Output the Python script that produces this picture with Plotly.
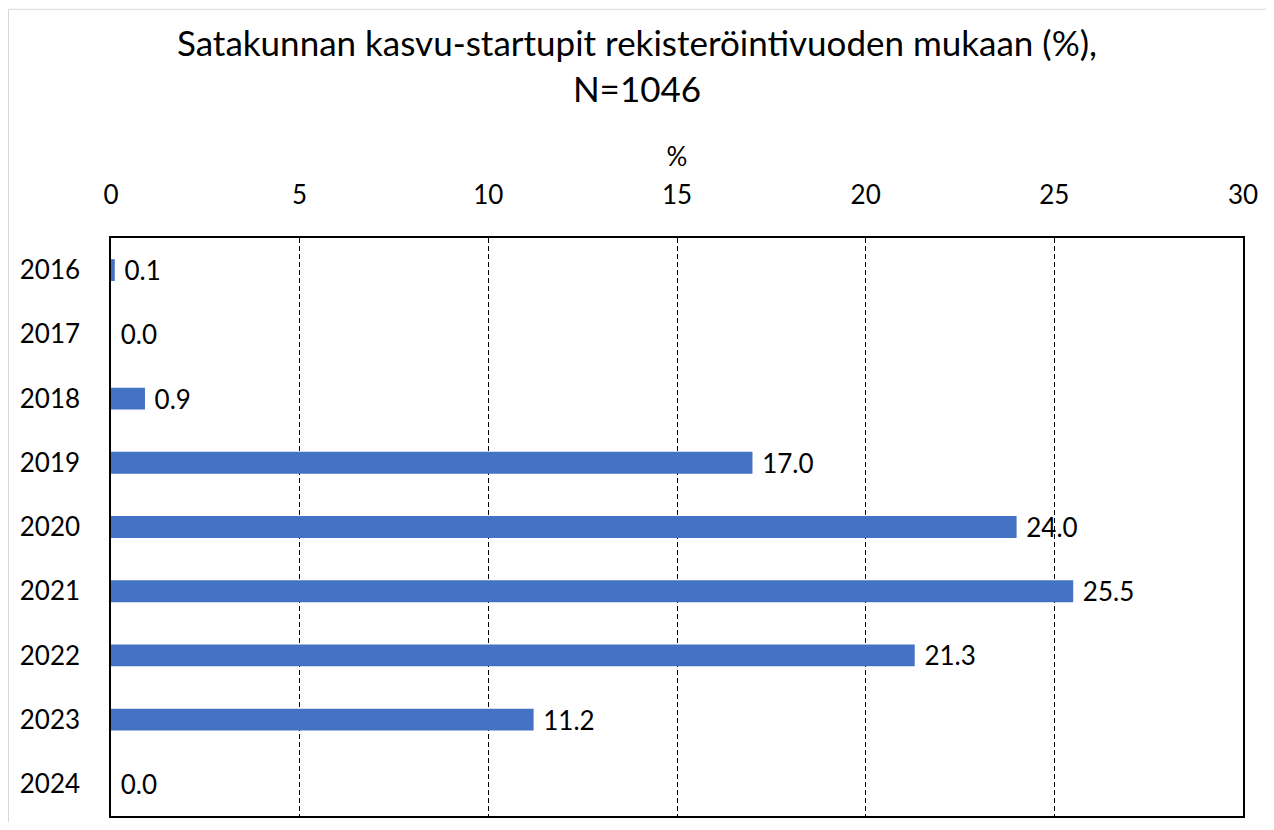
import plotly.graph_objects as go

years = ["2016", "2017", "2018", "2019", "2020", "2021", "2022", "2023", "2024"]
values = [0.1, 0.0, 0.9, 17.0, 24.0, 25.5, 21.3, 11.2, 0.0]
x_ticks = [0, 5, 10, 15, 20, 25, 30]

FONT = "Lato"
W, H = 1258, 814
L, R, T, B = 103, 23, 230, 4
PW, PH = W - L - R, H - T - B

fig = go.Figure()
fig.add_trace(go.Bar(
    y=years, x=values, orientation="h",
    marker=dict(color="#4472C4", line=dict(width=0)),
    width=0.34,
    text=["\u00a0" + f"{v:.1f}" for v in values],
    textposition="outside",
    textfont=dict(size=26, color="#000000", family=FONT),
    constraintext="none",
    cliponaxis=False,
))

fig.update_layout(
    width=W, height=H,
    paper_bgcolor="white", plot_bgcolor="white",
    margin=dict(l=L, r=R, t=T, b=B),
    font=dict(family=FONT, color="#000000"),
    title=dict(
        text="Satakunnan kasvu-startupit rekisteröintivuoden mukaan (%),<br>N=1046",
        x=0.5, xanchor="center", xref="container",
        yref="container", y=1 - 48 / H, yanchor="middle",
        font=dict(size=35, family=FONT, color="#000000"),
    ),
    showlegend=False,
    xaxis=dict(
        side="top", range=[0, 30], tickvals=x_ticks,
        tickfont=dict(size=26, family=FONT),
        title=dict(text="%", font=dict(size=26, family=FONT), standoff=4),
        showgrid=True, gridcolor="#000000", griddash="5px,3px", gridwidth=1,
        showline=True, linecolor="#000000", linewidth=1.5, mirror=True,
        zeroline=False, ticks="", ticklen=0, ticklabelstandoff=22,
    ),
    yaxis=dict(
        autorange="reversed", type="category",
        tickfont=dict(size=26, family=FONT),
        showline=True, linecolor="#000000", linewidth=1.5, mirror=True,
        showgrid=False, ticks="", ticklabelstandoff=24,
    ),
    shapes=[dict(type="rect", xref="paper", yref="paper",
                 x0=(-L + 0.5) / PW, x1=(PW + R + 20) / PW,
                 y0=(-B - 20) / PH, y1=(PH + T - 0.5) / PH,
                 line=dict(color="#D9D9D9", width=1))],
)

fig.write_html("out.html")
